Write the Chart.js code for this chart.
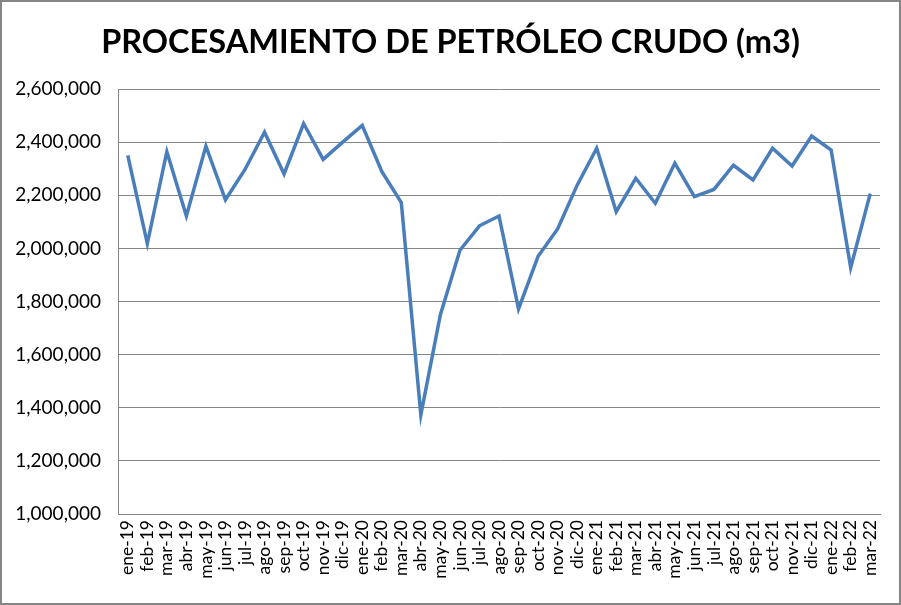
<!DOCTYPE html>
<html>
<head>
<meta charset="utf-8">
<style>
  html, body { margin: 0; padding: 0; background: #fff; }
  #wrap { width: 901px; height: 605px; }
</style>
</head>
<body>
<div id="wrap"><canvas id="lineChart" width="901" height="605"></canvas></div>
<script src="https://cdn.jsdelivr.net/npm/chart.js"></script>
<script>
    // Meses (ene-19 .. mar-22)
    var meses = ["ene-19", "feb-19", "mar-19", "abr-19", "may-19", "jun-19", "jul-19", "ago-19", "sep-19", "oct-19", "nov-19", "dic-19",
        "ene-20", "feb-20", "mar-20", "abr-20", "may-20", "jun-20", "jul-20", "ago-20", "sep-20", "oct-20", "nov-20", "dic-20",
        "ene-21", "feb-21", "mar-21", "abr-21", "may-21", "jun-21", "jul-21", "ago-21", "sep-21", "oct-21", "nov-21", "dic-21",
        "ene-22", "feb-22", "mar-22"];

    // Procesamiento de petróleo crudo (m3)
    var procesamiento = [2350000, 2018000, 2364000, 2122000, 2385000, 2183000, 2297000, 2437000, 2280000, 2470000, 2335000, 2400000,
        2463000, 2290000, 2172000, 1373000, 1750000, 1993000, 2085000, 2122000, 1772000, 1970000, 2073000, 2238000,
        2377000, 2138000, 2264000, 2170000, 2321000, 2195000, 2222000, 2313000, 2258000, 2377000, 2310000, 2423000,
        2370000, 1927000, 2206000];

    // Eje Y
    var yMin = 1000000;
    var yMax = 2600000;
    var yPaso = 200000;

    var titulo = 'PROCESAMIENTO DE PETRÓLEO CRUDO (m3)';
    var fuente = "Lato, 'Open Sans', sans-serif";

    // Fondo blanco, marco gris y título centrado en el lienzo
    var marco = {
        id: 'marco',
        beforeDraw: function (chart) {
            var c = chart.ctx;
            c.save();
            c.fillStyle = '#ffffff';
            c.fillRect(0, 0, chart.width, chart.height);
            c.restore();
        },
        afterDraw: function (chart) {
            var c = chart.ctx;
            c.save();
            c.fillStyle = '#000';
            c.font = "bold 32.5px " + fuente;
            c.textAlign = 'center';
            c.textBaseline = 'middle';
            c.fillText(titulo, chart.width / 2, 43);
            c.strokeStyle = '#868686';
            c.lineWidth = 2;
            c.strokeRect(1, 1, chart.width - 2, chart.height - 2);
            c.restore();
        }
    };

    var ctx = document.getElementById('lineChart').getContext('2d');
    var grafico = new Chart(ctx, {
        type: 'line',
        data: {
            labels: meses,
            datasets: [{
                label: 'Procesamiento',
                data: procesamiento,
                borderColor: '#4A7EBB',
                backgroundColor: '#4A7EBB',
                borderWidth: 3.5,
                pointRadius: 0,
                tension: 0,
                fill: false
            }]
        },
        options: {
            responsive: false,
            animation: false,
            layout: { padding: { left: 0, right: 21, top: 89, bottom: 0 } },
            plugins: {
                legend: { display: false },
                tooltip: { enabled: false },
                title: { display: false }
            },
            scales: {
                x: {
                    offset: true,
                    grid: { display: false, drawTicks: false },
                    border: { display: true, color: '#868686', width: 1 },
                    ticks: {
                        color: '#000',
                        font: { family: fuente, size: 17.5 },
                        minRotation: 90,
                        maxRotation: 90,
                        autoSkip: false,
                        padding: 6
                    },
                    afterFit: function (scale) { scale.height = 91; }
                },
                y: {
                    min: yMin,
                    max: yMax,
                    grid: { color: '#868686', lineWidth: 1, drawTicks: false },
                    border: { display: true, color: '#868686', width: 1 },
                    ticks: {
                        stepSize: yPaso,
                        color: '#000',
                        font: { family: fuente, size: 19 },
                        padding: 17,
                        callback: function (v) { return v.toLocaleString('en-US'); }
                    },
                    afterFit: function (scale) { scale.width = 118; }
                }
            }
        },
        plugins: [marco]
    });
</script>
</body>
</html>
